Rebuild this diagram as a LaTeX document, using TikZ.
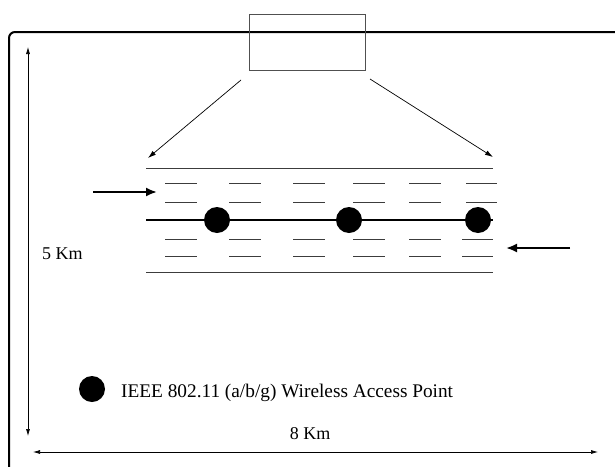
\documentclass[tikz,border=0pt]{standalone}
\usepackage{fontspec}
\setmainfont{Liberation Serif}
\usepackage{xcolor}
\definecolor{inkcolor}{RGB}{0,0,0}
\definecolor{roadcolor}{RGB}{60,60,60}
\definecolor{boxcolor}{RGB}{80,80,80}
\usetikzlibrary{arrows.meta}

\tikzset{
  apdot/.style={circle, fill=inkcolor, minimum size=26pt, inner sep=0pt},
  laneline/.style={roadcolor, line width=1pt},
  flowarrow/.style={line width=2pt, -{Latex[length=11pt,width=9pt]}},
  dimarrow/.style={line width=0.7pt, {Latex[length=7pt,width=4pt]}-{Latex[length=7pt,width=4pt]}}
}

\begin{document}
\begin{tikzpicture}[x=1pt, y=-1pt, every node/.style={color=inkcolor, font=\fontsize{18}{20}\selectfont}]
  \useasboundingbox (0,0) rectangle (615,466);
  \clip (0,0) rectangle (615,466);

  % area frame
  \draw[line width=2pt, rounded corners=6pt] (9,32) rectangle (621,490);

  % zoomed window
  \draw[boxcolor, line width=1pt] (249,14) rectangle (365,70);
  \coordinate (winL) at (241,80);
  \coordinate (winR) at (370,79);
  \coordinate (roadNW) at (148,158);
  \coordinate (roadNE) at (493,157);
  \draw[line width=0.7pt, -{Latex[length=8pt,width=5pt]}] (winL) -- (roadNW);
  \draw[line width=0.7pt, -{Latex[length=8pt,width=5pt]}] (winR) -- (roadNE);

  % road edges
  \draw[laneline] (146,168) -- (493,168);
  \draw[laneline] (146,272) -- (493,272);

  % lane markings
  \foreach \y in {183,202} {
    \foreach \a/\b in {165/197, 229/261, 293/325, 353/385, 409/441, 466/497}
      \draw[laneline] (\a,\y) -- (\b,\y);
  }
  \foreach \y in {239,256} {
    \foreach \a/\b in {165/197, 229/261, 293/325, 353/385, 409/441, 462/493}
      \draw[laneline] (\a,\y) -- (\b,\y);
  }

  % access points along the backbone
  \node[apdot] (ap1) at (217,220) {};
  \node[apdot] (ap2) at (349,220) {};
  \node[apdot] (ap3) at (478,220) {};
  \draw[line width=1.3pt] (146,220) -- (ap1) -- (ap2) -- (ap3) -- (493,220);

  % traffic direction
  \coordinate (inL) at (93,192);
  \coordinate (outL) at (157,192);
  \coordinate (inR) at (570,248);
  \coordinate (outR) at (506,248);
  \draw[flowarrow] (inL) -- (outL);
  \draw[flowarrow] (inR) -- (outR);

  % dimensions
  \coordinate (dimT) at (28,47);
  \coordinate (dimB) at (28,436);
  \draw[dimarrow] (dimT) -- (dimB);
  \node[anchor=base west, inner sep=0pt] (height) at (42,259) {5 Km};

  \coordinate (dimL) at (33,452);
  \coordinate (dimR) at (598,452);
  \draw[dimarrow] (dimL) -- (dimR);
  \node[anchor=base, inner sep=0pt] (width) at (310,439) {8 Km};

  % legend
  \node[apdot] (key) at (92,389) {};
  \node[anchor=base west, inner sep=0pt, font=\fontsize{19.3}{21}\selectfont] (keytext) at (121,397) {IEEE 802.11 (a/b/g) Wireless Access Point};
\end{tikzpicture}
\end{document}
